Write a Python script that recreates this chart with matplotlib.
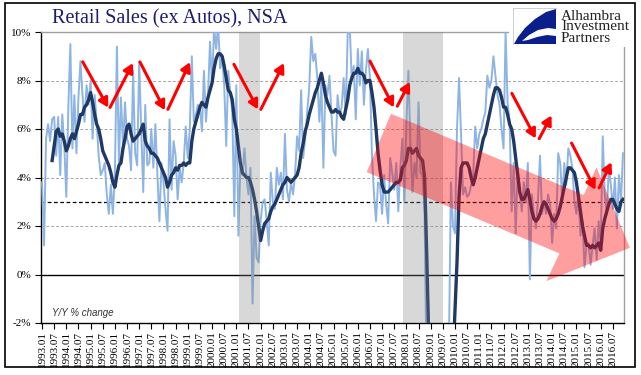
import numpy as np
import matplotlib.pyplot as plt
from matplotlib.patches import Polygon, Rectangle

nan = np.nan

# monthly Y/Y % change, 1993.01 - 2016.12 (one row per year)
yoy = [
    3.8, 1.2, 5.6, 6.2, 5.5, 6.4, 6.5, 4.9, 6.5, 4.1, 6.6, 5.3,
    3.2, 6.9, 9.5, 5.2, 7.4, 5.0, 7.3, 8.8, 7.4, 6.3, 7.8, 7.0,
    8.0, 5.6, 7.4, 6.3, 4.9, 4.1, 4.3, 4.6, 3.3, 2.5, 3.7, 2.5,
    4.2, 9.4, 4.6, 7.3, 5.3, 7.1, 5.6, 5.3, 4.3, 8.4, 5.0, 4.5,
    8.8, 6.0, 3.4, 7.0, 4.5, 4.6, 6.0, 4.4, 6.2, 4.1, 2.2, 4.6,
    3.8, 2.7, 1.8, 6.4, 3.5, 5.5, 4.9, 3.1, 4.4, 3.8, 4.6, 6.1,
    4.8, 6.0, 9.0, 6.3, 6.6, 7.0, 6.9, 5.9, 8.4, 6.3, 7.4, 9.6,
    7.8, 10.2, 9.3, 10.3, 8.5, 8.9, 7.8, 5.3, 8.4, 7.5, 6.7, 2.4,
    7.8, 1.6, 4.6, 4.1, 5.2, 4.0, 3.3, 4.4, -1.2, 2.4, 0.7, 0.5,
    2.2, 3.0, 3.1, 2.2, 1.2, 4.2, 3.0, 2.7, 4.4, 3.7, 4.2, 3.1,
    5.8, 3.5, 3.0, 3.8, 3.3, 4.1, 5.7, 5.1, 7.6, 4.8, 5.6, 6.7,
    7.7, 9.8, 8.8, 9.1, 8.1, 6.3, 7.9, 4.4, 7.8, 7.4, 8.2, 6.6,
    5.1, 4.9, 7.4, 6.6, 6.9, 8.1, 6.6, 9.9, 10.3, 8.0, 8.6, 6.4,
    9.3, 7.8, 9.2, 7.0, 8.4, 9.3, 8.1, 4.9, 3.3, 2.2, 3.8, 3.7,
    2.5, 4.1, 2.9, 2.1, 4.8, 4.2, 3.5, 4.6, 2.6, 4.4, 5.6, 3.0,
    6.2, 8.4, 5.3, 3.4, 4.6, 4.0, 7.1, 4.2, 4.1, 2.5, -4.5, -7.0,
    -6.5, -9.0, -10.5, -9.5, -10.0, -9.0, -8.5, -6.0, -5.0, -3.0, 3.8, 2.0,
    1.7, 6.0, 8.1, 5.8, 3.3, 3.6, 3.2, 3.3, 3.7, 4.1, 6.1, 5.2,
    5.8, 6.0, 6.4, 6.7, 8.2, 7.7, 8.0, 9.0, 8.2, 7.4, 7.0, 6.0,
    5.2, 10.0, 7.1, 6.3, 2.6, 4.6, 1.7, 4.4, 3.5, 2.6, 3.8, 3.0,
    4.6, -0.2, 3.3, 2.5, 1.9, 3.1, 4.9, 2.5, 3.0, 2.5, 3.3, 2.9,
    1.3, 2.5, 1.9, 5.0, 4.6, 3.0, 4.6, 3.7, 5.2, 4.9, 4.4, 3.0,
    2.5, 3.4, 1.6, 2.2, 0.3, 1.2, 1.3, 0.4, 1.2, 1.9, 0.6, 2.2,
    1.2, 5.7, 3.3, 2.5, 4.4, 3.7, 2.7, 4.0, 1.9, 4.1, 3.0, 5.0,
]

# smoothed average
avg = [
    nan, nan, nan, nan, nan, 4.7, 5.3, 5.9, 6.0, 5.7, 5.8, 5.5,
    5.1, 5.3, 5.6, 5.8, 5.6, 5.9, 6.2, 6.6, 6.6, 6.9, 7.0, 7.2,
    7.5, 7.1, 6.6, 6.2, 6.0, 5.6, 5.1, 4.9, 4.7, 4.5, 4.2, 3.8,
    3.6, 4.1, 4.5, 4.6, 5.2, 5.6, 6.1, 6.2, 5.8, 5.5, 5.6, 5.7,
    5.8, 6.0, 6.2, 5.5, 5.3, 5.2, 5.0, 5.0, 4.9, 4.8, 4.6, 4.4,
    4.2, 4.0, 3.6, 3.8, 4.1, 4.2, 4.4, 4.3, 4.5, 4.5, 4.6, 4.5,
    4.6, 4.6, 5.5, 6.0, 6.3, 6.6, 6.9, 7.1, 7.0, 6.9, 7.3, 7.6,
    7.9, 8.5, 8.9, 9.1, 9.1, 9.0, 8.6, 8.1, 7.6, 7.5, 7.2, 6.4,
    6.0, 5.3, 4.6, 4.2, 4.1, 4.0, 4.0, 3.8, 3.5, 3.1, 2.6, 2.0,
    1.4, 1.8, 2.1, 2.2, 2.3, 2.6, 2.8, 2.9, 3.1, 3.3, 3.5, 3.7,
    3.8, 4.0, 3.9, 3.8, 3.9, 4.0, 4.1, 4.4, 5.0, 5.4, 5.9, 6.2,
    6.6, 6.9, 7.2, 7.5, 7.7, 8.0, 8.3, 7.9, 7.4, 7.1, 6.9, 6.7,
    6.7, 6.8, 6.7, 6.7, 6.5, 6.4, 6.8, 7.2, 7.8, 8.1, 8.3, 8.3,
    8.5, 8.3, 8.3, 8.2, 7.9, 8.0, 8.0, 7.5, 6.9, 6.0, 5.0, 4.3,
    3.7, 3.4, 3.4, 3.4, 3.5, 3.6, 3.7, 3.8, 3.8, 3.9, 4.4, 4.5,
    4.7, 5.2, 5.2, 5.0, 5.1, 5.2, 4.9, 4.8, 4.7, 4.0, 1.0, -2.5,
    -4.5, -6.0, -7.0, -7.8, -8.3, -8.5, -8.3, -7.8, -7.0, -6.0, -5.0, -3.5,
    -1.5, 0.5, 3.2, 4.4, 4.6, 4.6, 4.6, 4.4, 4.0, 3.7, 4.0, 4.4,
    4.8, 5.2, 5.6, 5.8, 6.2, 6.6, 7.0, 7.4, 7.7, 7.7, 7.6, 7.3,
    6.9, 6.9, 6.6, 6.2, 6.0, 5.5, 4.8, 4.1, 3.4, 3.1, 3.1, 3.3,
    3.5, 3.1, 2.6, 2.3, 2.2, 2.3, 2.5, 2.8, 3.0, 2.9, 2.7, 2.5,
    2.3, 2.2, 2.3, 2.5, 2.8, 3.2, 3.6, 4.0, 4.4, 4.4, 4.3, 4.2,
    3.8, 3.2, 2.6, 2.0, 1.6, 1.2, 1.2, 1.1, 1.2, 1.1, 1.2, 1.3,
    1.0, 1.9, 2.3, 2.6, 2.9, 3.1, 3.1, 2.9, 2.7, 2.6, 3.0, 3.1,
]

years = list(range(1993, 2017))
tick_labels = [f"{y}.{m:02d}" for y in years for m in (1, 7)]
y_ticks = [-2, 0, 2, 4, 6, 8, 10]

# recessions, in month index
recessions = [(97.5, 107.5), (178.5, 198.0)]

# red swing arrows (month index, %)
swings = [
    ((20.1, 8.77), (32.7, 6.88)), ((33.6, 6.89), (44.9, 8.72)),
    ((48.4, 8.76), (60.7, 6.77)), ((62.2, 6.81), (73.1, 8.76)),
    ((94.8, 8.67), (106.7, 6.81)), ((108.1, 6.81), (119.5, 8.72)),
    ((162.0, 8.80), (173.8, 6.89)), ((175.5, 6.94), (181.7, 7.94)),
    ((232.1, 7.47), (243.9, 5.61)), ((245.6, 5.60), (251.7, 6.56)),
    ((261.6, 5.42), (273.4, 3.49)), ((275.2, 3.57), (281.3, 4.63)),
]
# big trend arrow outline
trend = [(172.4, 6.63), (267.6, 3.28), (273.9, 4.42), (290.4, 1.10),
         (249.2, -0.27), (255.6, 0.87), (160.4, 4.22)]

W, H = 641, 375
fig = plt.figure(figsize=(W / 100, H / 100), dpi=100)
ax = fig.add_axes([41 / W, 1 - 323 / H, 583 / W, 291 / H])

x = np.arange(len(yoy))
for v in [2, 4, 6, 8]:
    ax.axhline(v, color='#A6A6A6', lw=0.7, ls=(0, (3, 2)), zorder=1)
ax.axhline(3, color='black', lw=0.9, ls=(0, (3, 2)), zorder=2)
ax.axhline(0, color='black', lw=1.0, zorder=2)

ax.plot(x, yoy, color='#8DB4E2', lw=1.4, zorder=3)
ax.plot(x, avg, color='#1F3864', lw=2.4, zorder=4, solid_joinstyle='round')

for a, b in recessions:
    ax.axvspan(a, b, color='0.5', alpha=0.3, lw=0, zorder=5)

ax.add_patch(Polygon(trend, closed=True, facecolor=(1, 0, 0, 0.38),
                     edgecolor='none', zorder=6, clip_on=False))

for p0, p1 in swings:
    ax.annotate('', xy=p1, xytext=p0, zorder=7,
                arrowprops=dict(arrowstyle='-|>,head_length=0.45,head_width=0.25',
                                color='#FF0000', lw=2.2, shrinkA=0, shrinkB=0,
                                mutation_scale=12))

ax.set_xlim(-0.5, 287.5)
ax.set_ylim(-2, 10)
ax.set_xticks(range(0, 288, 6))
ax.set_xticklabels(tick_labels, rotation=90, family='Liberation Serif', fontsize=8)
ax.set_yticks(y_ticks)
ax.set_yticklabels([f"{v}%" for v in y_ticks], family='Liberation Serif', fontsize=8)
ax.tick_params(axis='x', length=4, width=0.8, pad=2)
ax.tick_params(axis='y', length=4, width=0.8, pad=3)

for side in ['left', 'bottom']:
    ax.spines[side].set_color('black')
    ax.spines[side].set_linewidth(1.0)
for side in ['top', 'right']:
    ax.spines[side].set_color('#A0A0A0')
    ax.spines[side].set_linewidth(1.0)

fig.text(52 / W, 1 - 313 / H, 'Y/Y % change', fontsize=7, style='italic',
         family='Liberation Sans', color='#333333', va='center')

fig.text(52 / W, 1 - 19 / H, 'Retail Sales (ex Autos), NSA', family='Liberation Serif',
         fontsize=14.5, color='#1c1c6e', va='center')

# white mask over top-right corner for the logo
fig.patches.append(Rectangle((509 / W, 1 - 47 / H), 129 / W, 44 / H, transform=fig.transFigure,
                             facecolor='white', edgecolor='none', zorder=1))

# logo
lax = fig.add_axes([513 / W, 1 - 45 / H, 44 / W, 37 / H])
lax.set_zorder(5)
lax.set_xlim(0, 44)
lax.set_ylim(37, 0)
lax.axis('off')
lax.add_patch(Rectangle((0, 0), 44, 37, facecolor='white', edgecolor='#C8C8C8', lw=0.6))
lax.add_patch(Polygon([(43, 1), (33, 4), (22, 11), (12, 20), (5, 29), (1, 36), (43, 36)],
                      facecolor='#0A1E8C', edgecolor='none'))
lax.add_patch(Polygon([(9, 33), (16, 27), (25, 22), (35, 20), (43, 21), (43, 28),
                       (34, 27), (24, 29), (15, 32)], facecolor='white', edgecolor='none'))
fig.text(561 / W, 1 - 27 / H, 'Alhambra\nInvestment\nPartners', family='Liberation Serif',
         fontsize=11, color='#222222', va='center', linespacing=0.8, zorder=6)

# outer frame
fig.patches.append(Rectangle((5 / W, 1 - 367 / H), 630 / W, 364 / H, transform=fig.transFigure,
                             fill=False, edgecolor='black', lw=1.2, zorder=2))

fig.savefig('out.png', dpi=100)
